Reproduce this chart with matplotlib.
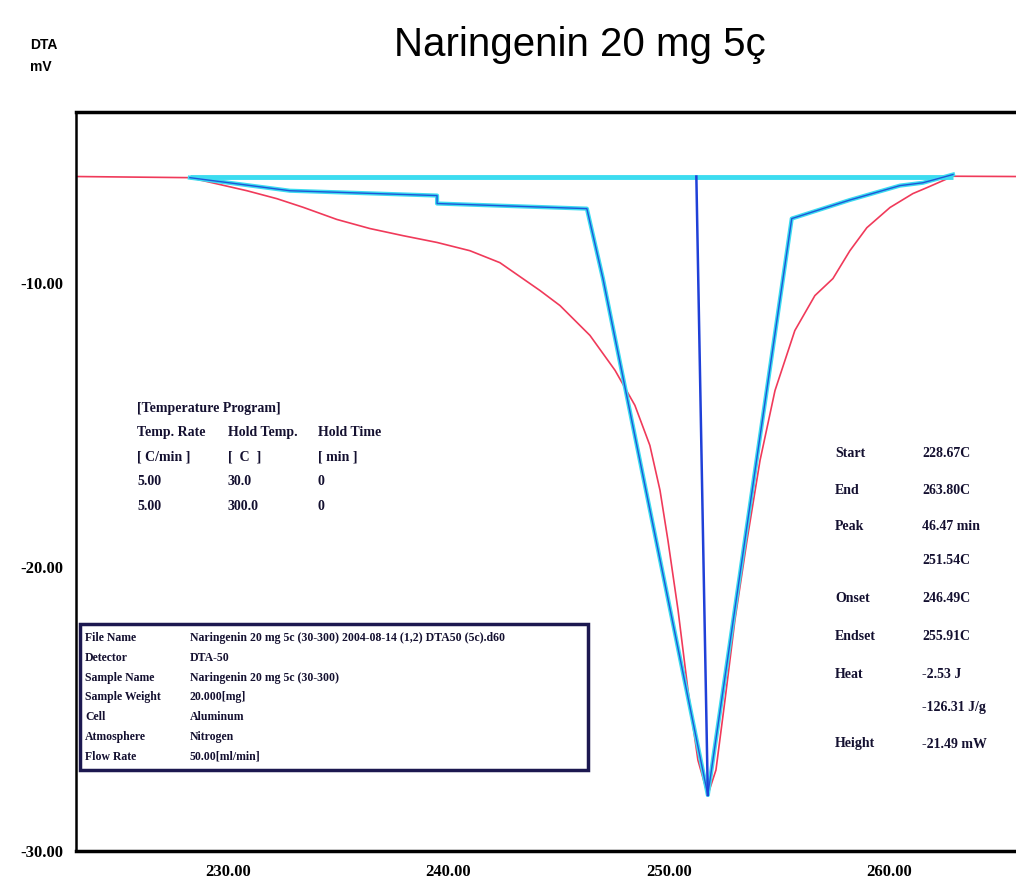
import matplotlib
matplotlib.use("Agg")
import matplotlib.pyplot as plt
from matplotlib.patches import Rectangle

# DTA signal (temperature in C, signal in mV)
dta_temp = [223.09, 228.26, 230.85, 232.21, 233.39, 234.93, 236.43, 237.93,
            239.48, 240.97, 242.33, 244.15, 245.06, 246.42, 247.56, 248.46,
            249.14, 249.60, 249.96, 250.42, 250.87, 251.32, 251.77, 252.14,
            252.55, 253.00, 253.55, 254.14, 254.82, 255.72, 256.63, 257.45,
            258.22, 258.99, 260.04, 261.08, 261.72, 262.90, 265.76]
dta_mv = [-6.27, -6.31, -6.77, -7.05, -7.35, -7.78, -8.10, -8.35,
          -8.59, -8.88, -9.30, -10.28, -10.81, -11.86, -13.09, -14.32,
          -15.73, -17.31, -19.07, -21.53, -24.34, -26.80, -28.03, -27.15,
          -24.69, -21.88, -19.07, -16.26, -13.80, -11.69, -10.46, -9.86,
          -8.88, -8.07, -7.36, -6.87, -6.66, -6.26, -6.27]

# peak analysis lines
base_temp = [228.26, 262.90]
base_mv = [-6.27, -6.27]
tangent_temp = [228.26, 232.80, 239.48, 239.48, 246.28, 247.01, 251.77,
                255.58, 258.20, 260.49, 261.53, 262.90]
tangent_mv = [-6.31, -6.77, -6.94, -7.22, -7.40, -9.86, -28.03,
              -7.75, -7.10, -6.59, -6.49, -6.20]
peak_line_temp = [251.25, 251.77]
peak_line_mv = [-6.27, -28.03]

x_ticks = [230, 240, 250, 260]
y_ticks = [-10, -20, -30]

program_rows = [["[Temperature Program]", "", ""],
                ["Temp. Rate", "Hold Temp.", "Hold Time"],
                ["[ C/min ]", "[  C  ]", "[ min ]"],
                ["5.00", "30.0", "0"],
                ["5.00", "300.0", "0"]]

file_labels = ["File Name", "Detector", "Sample Name", "Sample Weight",
               "Cell", "Atmosphere", "Flow Rate"]
file_values = ["Naringenin 20 mg 5c (30-300) 2004-08-14 (1,2) DTA50 (5c).d60",
               "DTA-50", "Naringenin 20 mg 5c (30-300)", "20.000[mg]",
               "Aluminum", "Nitrogen", "50.00[ml/min]"]

result_labels = ["Start", "End", "Peak", "", "Onset", "Endset", "Heat", "", "Height"]
result_values = ["228.67C", "263.80C", "46.47 min", "251.54C", "246.49C",
                 "255.91C", "-2.53 J", "-126.31 J/g", "-21.49 mW"]

W, H = 1016, 885
fig = plt.figure(figsize=(W / 100, H / 100), dpi=100)
ax = fig.add_axes([76 / W, 1 - 851 / H, (W - 76) / W, (851 - 112) / H])

ax.plot(dta_temp, dta_mv, color="#f03a5a", lw=1.2, zorder=2)
ax.plot(base_temp, base_mv, color="#3cdcf0", lw=3.5, solid_capstyle="butt", zorder=3)
ax.plot(tangent_temp, tangent_mv, color="#3cdcf0", lw=3.0, zorder=3)
ax.plot(tangent_temp, tangent_mv, color="#1f55d8", lw=1.0, zorder=4)
ax.plot(peak_line_temp, peak_line_mv, color="#1f40d8", lw=1.8, zorder=4)

ax.set_xlim(223.09, 265.76)
ax.set_ylim(-30, -4.0)
ax.set_xticks(x_ticks)
ax.set_xticklabels([f"{t:.2f}" for t in x_ticks])
ax.set_yticks(y_ticks)
ax.set_yticklabels([f"{v:.2f}" for v in y_ticks])
ax.tick_params(length=0, labelsize=12, pad=9)
for lab in ax.get_xticklabels() + ax.get_yticklabels():
    lab.set_fontweight("bold")
    lab.set_family("Liberation Serif")
ax.spines["right"].set_visible(False)
ax.spines["top"].set_linewidth(2.5)
ax.spines["bottom"].set_linewidth(2.5)
ax.spines["left"].set_linewidth(1.8)

fig.text(580 / W, 1 - 45 / H, "Naringenin 20 mg 5ç", ha="center", va="center",
         fontsize=29, family="Liberation Sans")
fig.text(30 / W, 1 - 45 / H, "DTA", fontsize=10, fontweight="bold",
         family="Liberation Sans", va="center")
fig.text(30 / W, 1 - 67 / H, "mV", fontsize=10, fontweight="bold",
         family="Liberation Sans", va="center")

serif = dict(fontsize=10, fontweight="bold", family="Liberation Serif",
             va="center", color="#141030")

# temperature program block
col_x = [137, 228, 318]
for i, row in enumerate(program_rows):
    y = 408 + i * 24.5
    for cx, txt in zip(col_x, row):
        if txt:
            fig.text(cx / W, 1 - y / H, txt, **serif)

# file information box
fig.add_artist(Rectangle((80 / W, 1 - 770 / H), (588 - 80) / W, (770 - 624) / H,
                         transform=fig.transFigure, fill=False,
                         edgecolor="#1c1850", lw=2.5))
for i, (lab, val) in enumerate(zip(file_labels, file_values)):
    y = 638 + i * 19.8
    fig.text(85 / W, 1 - y / H, lab, **dict(serif, fontsize=8.5))
    fig.text(190 / W, 1 - y / H, val, **dict(serif, fontsize=8.5))

# peak results
result_y = [453, 490, 527, 561, 598, 636, 674, 708, 744]
for y, lab, val in zip(result_y, result_labels, result_values):
    if lab:
        fig.text(835 / W, 1 - y / H, lab, **serif)
    fig.text(922 / W, 1 - y / H, val, **serif)

fig.savefig("out.png", dpi=100)
